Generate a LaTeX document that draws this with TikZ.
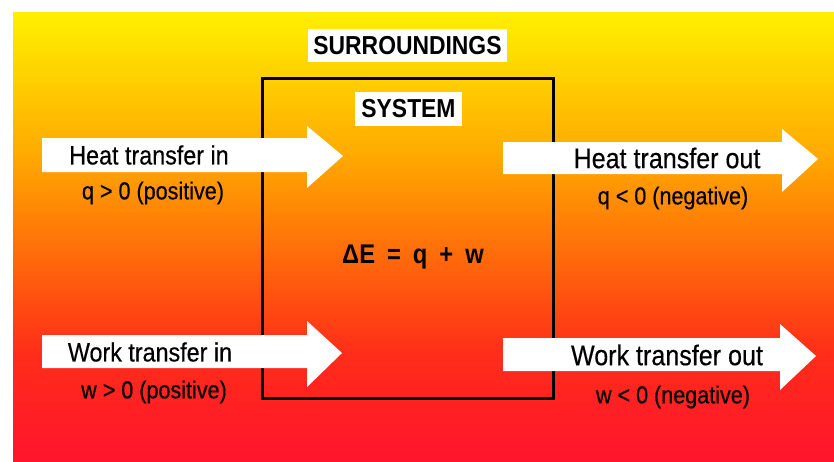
\documentclass[tikz,border=0pt]{standalone}
\usepackage{fontspec}
\setmainfont{Liberation Sans}
\newfontfamily\condfont[FakeStretch=0.88,FakeBold=0.4]{Liberation Sans}
\newfontfamily\capsfont[FakeStretch=0.88]{Liberation Sans}
\definecolor{bgA}{RGB}{255,240,0}
\definecolor{bgB}{RGB}{255,172,0}
\definecolor{bgC}{RGB}{255,110,10}
\definecolor{bgD}{RGB}{255,45,25}
\definecolor{bgE}{RGB}{255,20,45}
\pgfdeclareverticalshading{bgshade}{100bp}{color(0bp)=(bgE); color(25bp)=(bgE); color(37bp)=(bgD); color(48.5bp)=(bgC); color(59.6bp)=(bgB); color(75bp)=(bgA); color(100bp)=(bgA)}
\tikzset{
  arrowfill/.style={fill=white},
  lbl/.style={inner sep=0pt, anchor=center, text=black, font=\condfont\fontsize{26.5}{26.5}\selectfont},
  lblbig/.style={lbl, font=\condfont\fontsize{28.5}{28.5}\selectfont},
  sublbl/.style={inner sep=0pt, anchor=center, text=black, font=\condfont\fontsize{24.5}{24.5}\selectfont},
  capslbl/.style={fill=white, inner sep=0pt, anchor=center, text=black, font=\capsfont\bfseries\fontsize{26}{26}\selectfont},
  eqlbl/.style={inner sep=0pt, anchor=center, text=black, font=\capsfont\bfseries\fontsize{27}{27}\selectfont},
  sysbox/.style={draw=black, line width=3pt}
}
\newcommand{\eqgap}{\hspace{12pt}}
\begin{document}
\begin{tikzpicture}[x=1pt,y=-1pt]
\useasboundingbox (0,0) rectangle (834,461);
\fill[white] (0,0) rectangle (834,461);
% background gradient
\shade[shading=bgshade] (13,12) rectangle (834,461);
% system box
\draw[sysbox] (262,78) rectangle (553,398);
% labels
\node[capslbl, minimum width=199pt, minimum height=33pt] (surr) at (407.5,45.5) {SURROUNDINGS};
\node[capslbl, minimum width=107pt, minimum height=34pt] (sys) at (408.5,109) {SYSTEM};
\node[eqlbl] (eq) at (413,257) {ΔE\eqgap=\eqgap q\eqgap+\eqgap w};
% arrows
\fill[arrowfill] (42,138) -- (307,138) -- (307,126) -- (343,156) -- (307,188) -- (307,172) -- (42,172) -- cycle;
\fill[arrowfill] (503,142) -- (782,142) -- (782,129) -- (818,159) -- (782,192) -- (782,174) -- (503,174) -- cycle;
\fill[arrowfill] (42,335) -- (307,335) -- (307,321) -- (342,353) -- (307,387) -- (307,368) -- (42,368) -- cycle;
\fill[arrowfill] (503,338) -- (780,338) -- (780,324) -- (816,356) -- (780,390) -- (780,371) -- (503,371) -- cycle;
% arrow texts
\node[lbl] (hin) at (149,155) {Heat transfer in};
\node[lblbig] (hout) at (667,158) {Heat transfer out};
\node[lbl] (win) at (150,352) {Work transfer in};
\node[lblbig] (wout) at (667,355) {Work transfer out};
\node[sublbl] (hins) at (153,193) {q > 0 (positive)};
\node[sublbl] (houts) at (673,198) {q < 0 (negative)};
\node[sublbl] (wins) at (154,392) {w > 0 (positive)};
\node[sublbl] (wouts) at (673,397) {w < 0 (negative)};
\end{tikzpicture}
\end{document}
